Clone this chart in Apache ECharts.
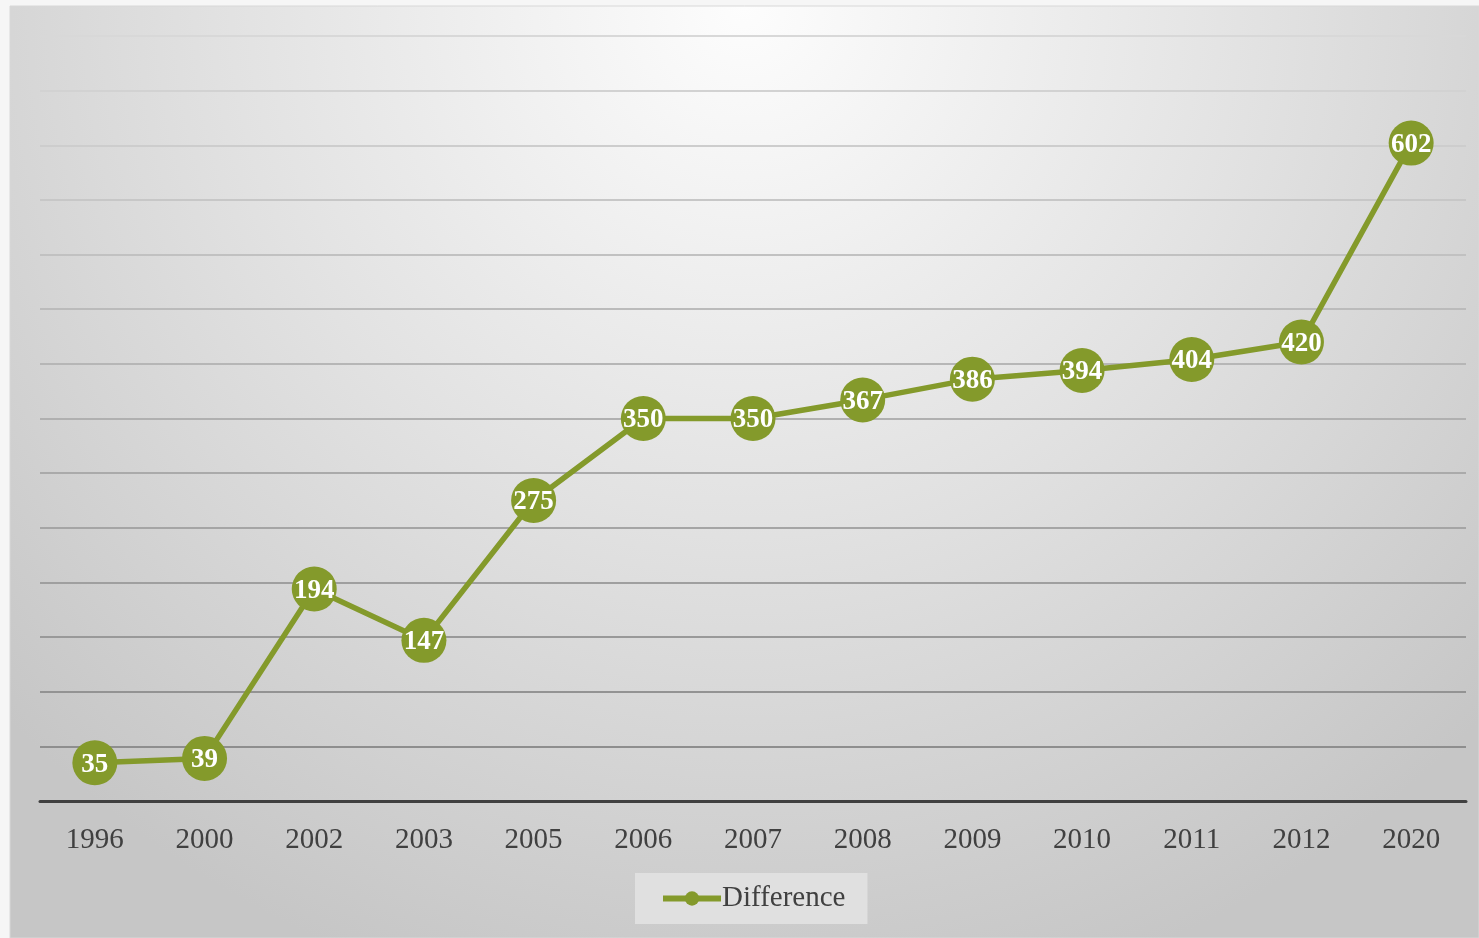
<!DOCTYPE html>
<html><head><meta charset="utf-8">
<script src="https://cdn.jsdelivr.net/npm/echarts@6/dist/echarts.min.js"></script>
<style>html,body{margin:0;padding:0;background:#fff;}#c{width:1479px;height:938px;}</style>
</head><body><div id="c"></div>
<script>
const categories = ['1996','2000','2002','2003','2005','2006','2007','2008','2009','2010','2011','2012','2020'];
const difference = [35,39,194,147,275,350,350,367,386,394,404,420,602];
const seriesName = 'Difference';

const green = '#849a2b';
const gridColors = [];
for (let i = 0; i <= 14; i++) {
  const t = i / 14; // 0 bottom -> 1 top
  const v = Math.round(0x88 + (0xd8 - 0x88) * t);
  const h = v.toString(16).padStart(2, '0');
  gridColors.push('#' + h + h + h);
}
const chart = echarts.init(document.getElementById('c'));
chart.setOption({
  animation: false,
  backgroundColor: '#f6f6f6',
  graphic: [{
    type: 'rect', silent: true, z: -10,
    shape: { x: 10, y: 6, width: 1469, height: 932 },
    style: {
      fill: new echarts.graphic.RadialGradient(0.5, 0, 1.1, [
        { offset: 0, color: '#fdfdfd' },
        { offset: 0.5, color: '#e2e2e2' },
        { offset: 1, color: '#c6c6c6' }
      ]),
      stroke: '#d8d8d8', lineWidth: 1
    }
  }],
  grid: { left: 40, right: 13, top: 36, bottom: 137, containLabel: false },
  xAxis: {
    type: 'category', data: categories, boundaryGap: true,
    axisLine: { lineStyle: { color: '#404040', width: 3 } },
    axisTick: { show: false },
    axisLabel: { color: '#404040', fontFamily: 'Liberation Serif', fontSize: 29, margin: 25 }
  },
  yAxis: {
    type: 'value', min: 0, max: 700, interval: 50,
    axisLine: { show: false }, axisTick: { show: false }, axisLabel: { show: false },
    splitLine: { lineStyle: { color: gridColors, width: 1.8 } }
  },
  legend: {
    bottom: 14, left: 635,
    data: [seriesName],
    backgroundColor: '#e0e0e0',
    padding: [11, 22, 11, 25],
    itemWidth: 58, itemHeight: 18, itemGap: 0,
    lineStyle: { width: 6 },
    textStyle: { color: '#404040', fontFamily: 'Liberation Serif', fontSize: 29, padding: [0, 0, 0, -4] }
  },
  series: [{
    name: seriesName, type: 'line', data: difference,
    symbol: 'circle', symbolSize: 45,
    itemStyle: { color: green },
    lineStyle: { color: green, width: 5.5 },
    label: {
      show: true, position: 'inside', color: '#fff', offset: [0, 2],
      fontFamily: 'Liberation Serif', fontWeight: 'bold', fontSize: 27
    }
  }]
});
</script></body></html>
